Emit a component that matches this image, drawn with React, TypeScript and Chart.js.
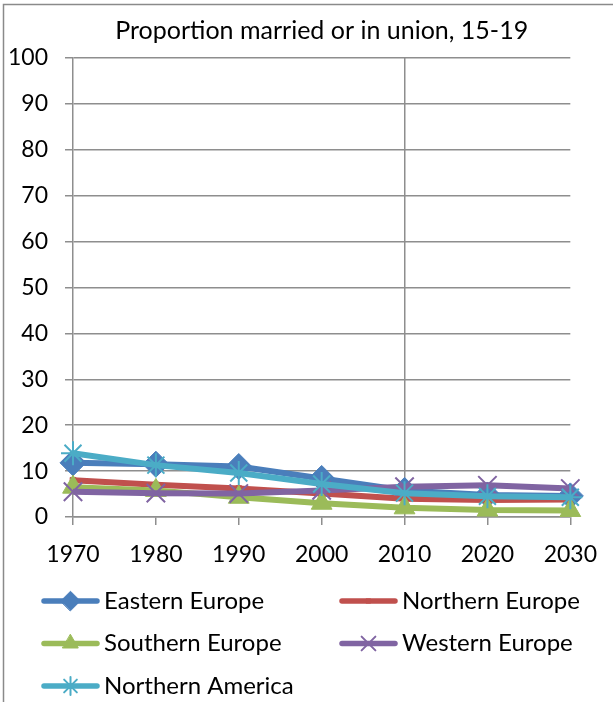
import React, { useEffect, useRef } from 'react';
import { Chart, registerables } from 'chart.js';
import { drawPoint } from 'chart.js/helpers';

Chart.register(...registerables);

const years = ['1970', '1980', '1990', '2000', '2010', '2020', '2030'];
const easternEurope = [11.8, 11.5, 11.0, 8.4, 5.8, 4.8, 4.6];
const northernEurope = [8.0, 7.0, 6.2, 5.1, 4.0, 3.7, 3.8];
const southernEurope = [6.5, 5.8, 4.3, 3.0, 2.0, 1.5, 1.4];
const westernEurope = [5.5, 5.2, 5.1, 5.8, 6.6, 6.9, 6.2];
const northernAmerica = [13.9, 11.3, 9.6, 7.2, 5.2, 4.5, 4.3];
const seriesNames = ['Eastern Europe', 'Northern Europe', 'Southern Europe', 'Western Europe', 'Northern America'];
const yMin = 0;
const yMax = 100;
const yStep = 10;
const titleText = 'Proportion married or in union, 15-19';

const FONT = 'Lato, "Open Sans", sans-serif';
const GRID = '#8e8e8e';

const framePlugin = {
  id: 'frame',
  beforeDraw(chart: any) {
    const ctx = chart.ctx;
    ctx.save();
    ctx.strokeStyle = '#8a8a8a';
    ctx.lineWidth = 1.5;
    ctx.beginPath();
    ctx.moveTo(3.5, chart.height);
    ctx.lineTo(3.5, 4.5);
    ctx.lineTo(chart.width, 4.5);
    ctx.stroke();
    ctx.restore();
  },
};

const legendPlugin = {
  id: 'gridLegend',
  afterDraw(chart: any) {
    const ctx = chart.ctx;
    chart.data.datasets.forEach((ds: any, i: number) => {
      const col = i % 2;
      const row = Math.floor(i / 2);
      const x0 = col === 0 ? 44 : 342;
      const y = 601 + row * 42.5;
      ctx.save();
      ctx.strokeStyle = ds.borderColor;
      ctx.lineWidth = 5.5;
      ctx.lineCap = 'round';
      ctx.beginPath();
      ctx.moveTo(x0, y);
      ctx.lineTo(x0 + 53, y);
      ctx.stroke();
      ctx.fillStyle = ds.pointBackgroundColor;
      ctx.strokeStyle = ds.pointBorderColor;
      ctx.lineWidth = ds.pointBorderWidth;
      drawPoint(ctx, { pointStyle: ds.pointStyle, rotation: 0, radius: ds.pointRadius * 0.75, borderWidth: ds.pointBorderWidth }, x0 + 26.5, y);
      ctx.fillStyle = '#000';
      ctx.font = `24px ${FONT}`;
      ctx.textBaseline = 'middle';
      ctx.textAlign = 'left';
      ctx.fillText(ds.label, x0 + 60, y);
      ctx.restore();
    });
  },
};

export default function App() {
  const ref = useRef<HTMLCanvasElement>(null);
  useEffect(() => {
    if (!ref.current) return;
    const mk = (label: string, data: number[], color: string, style: string, radius: number, bw: number, fill: string) => ({
      label,
      data,
      borderColor: color,
      backgroundColor: color,
      borderWidth: 6,
      pointStyle: style,
      pointRadius: radius,
      pointBackgroundColor: fill,
      pointBorderColor: color,
      pointBorderWidth: bw,
      tension: 0,
    });
    const datasets = [
      mk(seriesNames[0], easternEurope, '#4a7ebb', 'rectRot', 13, 1, '#4a7ebb'),
      mk(seriesNames[1], northernEurope, '#c0504d', 'rect', 4, 1, '#c0504d'),
      mk(seriesNames[2], southernEurope, '#9bbb59', 'triangle', 12, 1, '#9bbb59'),
      mk(seriesNames[3], westernEurope, '#8064a2', 'crossRot', 13, 2, '#8064a2'),
      mk(seriesNames[4], northernAmerica, '#4bacc6', 'star', 12, 2, '#4bacc6'),
    ].map((d, i, arr) => ({ ...d, order: arr.length - i }));

    const chart = new Chart(ref.current, {
      type: 'line',
      data: { labels: years, datasets: datasets as any },
      options: {
        animation: false,
        responsive: false,
        maintainAspectRatio: false,
        layout: { padding: { left: 0, right: 40, top: 0, bottom: 138 } },
        plugins: {
          legend: { display: false },
          tooltip: { enabled: false },
          title: {
            display: true,
            text: titleText,
            color: '#000',
            font: { family: FONT, size: 25, weight: 'normal' as any, lineHeight: 1.2 },
            padding: { top: 16, bottom: 12 },
            fullSize: false,
          },
        },
        scales: {
          x: {
            grid: {
              color: (c: any) => (c.index === 4 ? GRID : 'rgba(0,0,0,0)'),
              lineWidth: 1.5,
              tickColor: GRID,
              tickLength: 8,
              drawTicks: true,
            },
            border: { display: true, color: GRID, width: 1.5 },
            ticks: { color: '#000', font: { family: FONT, size: 23 }, padding: 16, maxRotation: 0, autoSkip: false },
            afterFit: (s: any) => { s.height = 47; },
          },
          y: {
            min: yMin,
            max: yMax,
            grid: { color: GRID, lineWidth: 1.5, tickColor: GRID, tickLength: 8 },
            border: { display: true, color: GRID, width: 1.5 },
            ticks: { stepSize: yStep, color: '#000', font: { family: FONT, size: 23 }, padding: 17 },
            afterFit: (s: any) => { s.width = 73; },
          },
        },
      },
      plugins: [framePlugin, legendPlugin],
    });
    return () => chart.destroy();
  }, []);

  return (
    <div style={{ position: 'absolute', left: 0, top: 0, width: 613, height: 702, background: '#fff' }}>
      <canvas ref={ref} width={613} height={702} style={{ width: 613, height: 702, display: 'block' }} />
    </div>
  );
}
